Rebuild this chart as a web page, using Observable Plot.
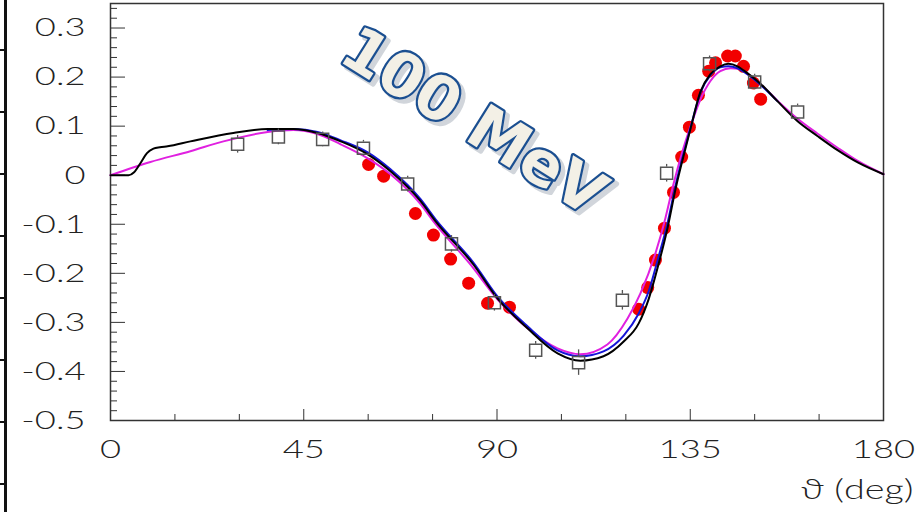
<!DOCTYPE html>
<html><head><meta charset="utf-8">
<script src="https://cdn.jsdelivr.net/npm/d3@7"></script>
<script src="https://cdn.jsdelivr.net/npm/@observablehq/plot@0.6"></script>
<style>
html,body{margin:0;padding:0;background:#fff;}
#wrap{position:relative;width:924px;height:512px;overflow:hidden;}
#edge{position:absolute;left:4px;top:0;width:3px;height:512px;background:#111;}
#edgeTicks{position:absolute;left:0;top:0;width:5px;height:512px;
  background:repeating-linear-gradient(to bottom,transparent 0,transparent 49px,#111 49px,#111 51px,transparent 51px,transparent 62px);}
</style></head><body>
<div id="wrap"><div id="chart"></div><div id="edgeTicks"></div><div id="edge"></div></div>
<script>
// ---- data (theta in degrees, asymmetry) ----
const blackX = [0,4.2,5.5,7.0,8.5,10.0,11.5,13.3,18.6,28.6,36.6,42.6,48.2,53.6,59.8,65.2,72.2,75.7,84.5,90.1,97.1,104.1,109.4,114.8,119.5,123.0,125.3,127.6,129.7,131.6,133.9,135.1,137.4,139.7,142.0,143.9,146.0,148.3,151.4,155.3,160.0,164.6,169.3,174.0,180];
const blackY = [0,0,0.006,0.025,0.045,0.054,0.057,0.059,0.069,0.086,0.094,0.094,0.086,0.069,0.043,0.008,-0.053,-0.094,-0.182,-0.251,-0.312,-0.363,-0.378,-0.369,-0.339,-0.302,-0.253,-0.182,-0.108,-0.027,0.055,0.096,0.171,0.206,0.222,0.227,0.222,0.208,0.186,0.151,0.110,0.080,0.051,0.026,0.002];

const magentaX = [0,9.3,18.6,26.3,36.6,42.6,48.2,53.6,59.8,65.2,72.2,75.2,83.8,90.1,97.1,104.1,109.4,115.7,120.4,123.4,126.9,129.2,131.1,133.2,135.1,137.4,139.7,142.0,144.4,146.7,149.0,151.8,155.3,160.0,164.6,169.3,174.0,180];
const magentaY = [0,0.027,0.049,0.069,0.088,0.092,0.084,0.063,0.035,0.002,-0.059,-0.094,-0.182,-0.253,-0.312,-0.353,-0.365,-0.345,-0.292,-0.241,-0.159,-0.088,-0.018,0.049,0.100,0.155,0.192,0.212,0.218,0.216,0.202,0.182,0.152,0.115,0.085,0.056,0.029,0.002];

const blueX = [36.6,42.6,48.2,53.6,59.8,65.2,72.2,75.7,84.5,90.1,97.1,104.1,109.4,114.8,119.5,123.0,125.3,127.6,129.7,131.6,133.9,135.1,137.4,139.7,142.0,143.9,146.0,148.3,151.4,155.3];
const blueY = [0.092,0.094,0.088,0.071,0.047,0.012,-0.049,-0.090,-0.178,-0.247,-0.308,-0.357,-0.369,-0.359,-0.327,-0.282,-0.237,-0.167,-0.098,-0.020,0.059,0.098,0.169,0.204,0.220,0.222,0.218,0.206,0.184,0.151];

const squareX = [29.6,39.1,49.4,58.9,69.2,79.4,89.4,99.0,109.0,119.2,129.5,139.5,150.0,160.0];
const squareY = [0.063,0.078,0.073,0.055,-0.018,-0.140,-0.260,-0.357,-0.382,-0.255,0.004,0.227,0.190,0.129];
const squareErr = [0.018,0.016,0.015,0.016,0.016,0.017,0.017,0.018,0.026,0.020,0.018,0.016,0.016,0.016];

const redX = [60.1,63.6,71.0,75.2,79.2,83.4,87.8,92.9,123.0,125.1,126.9,129.0,131.1,133.0,134.8,136.9,139.3,140.9,143.7,145.5,147.4,149.7,151.4];
const redY = [0.022,-0.002,-0.078,-0.122,-0.171,-0.220,-0.261,-0.269,-0.273,-0.229,-0.173,-0.108,-0.035,0.037,0.098,0.163,0.212,0.229,0.243,0.243,0.222,0.188,0.155];

const xMajorTicks = [0,45,90,135,180];
const xMinorTicks = [15,30,60,75,105,120,150,165];
const yMajorTicks = [-0.5,-0.4,-0.3,-0.2,-0.1,0,0.1,0.2,0.3];
const yMinorTicks = [-0.48,-0.46,-0.44,-0.42,-0.38,-0.36,-0.34,-0.32,-0.28,-0.26,-0.24,-0.22,-0.18,-0.16,-0.14,-0.12,-0.08,-0.06,-0.04,-0.02,0.02,0.04,0.06,0.08,0.12,0.14,0.16,0.18,0.22,0.24,0.26,0.28,0.32,0.34];

const titleText = "100 MeV";
const titlePos = {x: 84.5, y: 0.108};
const xLabel = "ϑ (deg)";

// ---- build tables ----
const toRows = (xs, ys) => xs.map((x, i) => ({x, y: ys[i]}));
const black = toRows(blackX, blackY);
const magenta = toRows(magentaX, magentaY);
const blue = toRows(blueX, blueY);
const squares = squareX.map((x, i) => ({x, y: squareY[i], e: squareErr[i]}));
const reds = toRows(redX, redY);
const halfSq = 0.0125;

const fmtY = d => d === 0 ? "0" : (d < 0 ? "-" : "") + Math.abs(d).toFixed(1);
const labelFont = "Lato, 'Liberation Sans', sans-serif";
const titleFont = "DejaVu Sans";

const chart = Plot.plot({
  width: 924,
  height: 512,
  marginLeft: 110,
  marginRight: 41,
  marginTop: 3,
  marginBottom: 92,
  style: {fontFamily: labelFont, background: "transparent", color: "#222"},
  x: {domain: [0, 180]},
  y: {domain: [-0.5, 0.35]},
  marks: [
    Plot.axisY({ticks: yMinorTicks, tickSize: -7, text: null, label: null, stroke: "#333"}),
    Plot.axisY({ticks: yMajorTicks, tickSize: -15, text: null, label: null, stroke: "#333"}),
    Plot.axisY({ticks: yMajorTicks, tickSize: 0, tickPadding: 25, tickFormat: fmtY, label: null, fontSize: 26, fontWeight: 300, fill: "#222"}),
    Plot.axisX({ticks: xMinorTicks, tickSize: -6, text: null, label: null, stroke: "#333"}),
    Plot.axisX({ticks: xMajorTicks, tickSize: -11, text: null, label: null, stroke: "#333"}),
    Plot.axisX({ticks: xMajorTicks, tickSize: 0, tickPadding: 19, tickFormat: d => String(d), label: null, fontSize: 26, fontWeight: 300, fill: "#222"}),
    Plot.text([xLabel], {frameAnchor: "bottom-right", text: d => d, dx: 30, dy: 70, textAnchor: "end", lineAnchor: "middle", fontSize: 27, fontWeight: 300, fill: "#222", className: "xlab"}),
    Plot.frame({stroke: "#333", strokeWidth: 1.5}),
    Plot.dot(reds, {x: "x", y: "y", r: 6.5, fill: "#f20000"}),
    Plot.line(magenta, {x: "x", y: "y", stroke: "#e020e0", strokeWidth: 2, curve: "monotone-x"}),
    Plot.line(blue, {x: "x", y: "y", stroke: "#1515d8", strokeWidth: 2, curve: "monotone-x"}),
    Plot.line(black, {x: "x", y: "y", stroke: "#000", strokeWidth: 2, curve: "monotone-x"}),
    Plot.ruleX(squares, {x: "x", y1: d => d.y + halfSq, y2: d => d.y + d.e, stroke: "#555", strokeWidth: 1.3}),
    Plot.ruleX(squares, {x: "x", y1: d => d.y - halfSq, y2: d => d.y - d.e, stroke: "#555", strokeWidth: 1.3}),
    Plot.dot(squares, {x: "x", y: "y", symbol: "square", r: 6.8, stroke: "#555", strokeWidth: 1.5, fill: "none"}),
    Plot.text([titleText], {x: () => titlePos.x, y: () => titlePos.y, text: d => d, rotate: 32, dx: 4, dy: 4, fontSize: 61, fontWeight: "bold", fontFamily: titleFont, fill: "#9aa4b0", stroke: "#9aa4b0", strokeWidth: 5, opacity: 0.45}),
    Plot.text([titleText], {x: () => titlePos.x, y: () => titlePos.y, text: d => d, rotate: 32, fontSize: 61, fontWeight: "bold", fontFamily: titleFont, fill: "#f3f0e6", stroke: "#1b4f91", strokeWidth: 4.5})
  ]
});

// widen the tick-label glyphs horizontally (the reference text is stretched)
const stretch = 1.4;
chart.querySelectorAll('g[aria-label="y-axis tick label"] text, g[aria-label="x-axis tick label"] text, g.xlab text').forEach(t => {
  const tr = t.getAttribute("transform");
  if (tr) t.setAttribute("transform", tr + ` scale(${stretch},1)`);
  else {
    const x = +(t.getAttribute("x") || 0);
    t.setAttribute("transform", `translate(${x},0) scale(${stretch},1) translate(${-x},0)`);
  }
});
document.getElementById("chart").appendChild(chart);
</script>
</body></html>
